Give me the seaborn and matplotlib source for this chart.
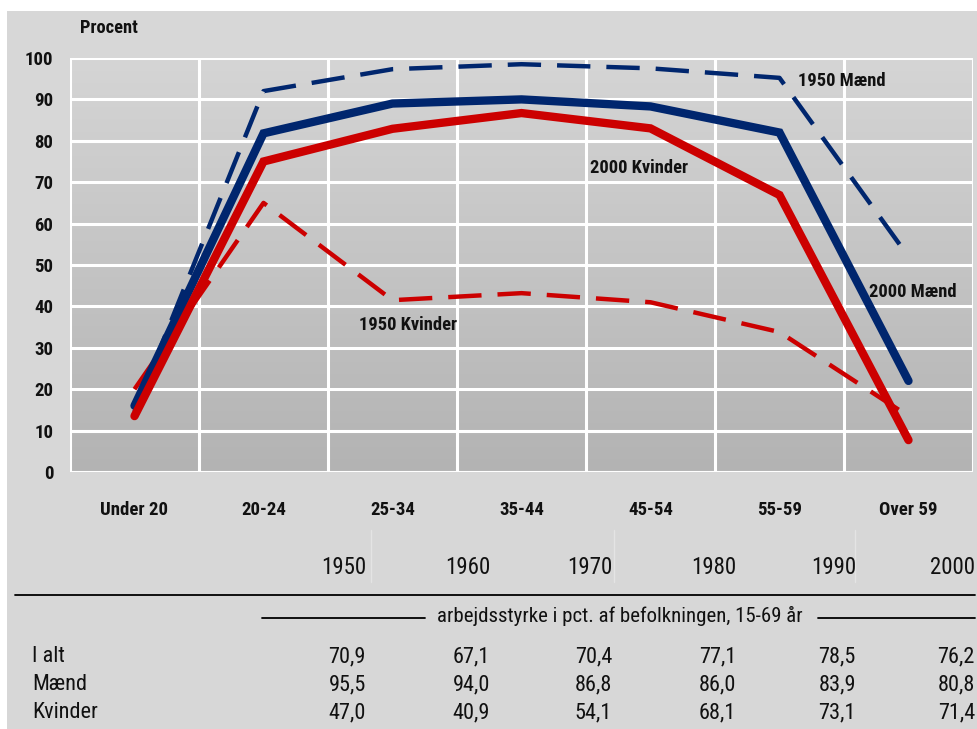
import numpy as np
import pandas as pd
import matplotlib
matplotlib.use("Agg")
import matplotlib.pyplot as plt
from matplotlib.colors import LinearSegmentedColormap
from matplotlib.patches import Rectangle
import seaborn as sns

# ---------------- data ----------------
age_groups = ["Under 20", "20-24", "25-34", "35-44", "45-54", "55-59", "Over 59"]
maend_1950 = [14.5, 92.0, 97.3, 98.5, 97.5, 95.2, 52.0]
kvinder_1950 = [20.0, 65.0, 41.5, 43.2, 41.0, 33.8, 13.5]
maend_2000 = [16.0, 81.8, 89.0, 90.0, 88.3, 82.0, 22.0]
kvinder_2000 = [13.5, 75.0, 82.9, 86.7, 83.0, 66.9, 7.7]

years = ["1950", "1960", "1970", "1980", "1990", "2000"]
row_labels = ["I alt", "Mænd", "Kvinder"]
i_alt = ["70,9", "67,1", "70,4", "77,1", "78,5", "76,2"]
maend_tab = ["95,5", "94,0", "86,8", "86,0", "83,9", "80,8"]
kvinder_tab = ["47,0", "40,9", "54,1", "68,1", "73,1", "71,4"]
table_subtitle = "arbejdsstyrke i pct. af befolkningen, 15-69 år"

# ---------------- style ----------------
sns.set_theme(style="white")
FONTS = ["Liberation Sans Narrow", "Roboto Condensed", "Liberation Sans", "DejaVu Sans"]
plt.rcParams["font.family"] = FONTS
plt.rcParams["text.color"] = "#111111"
plt.rcParams["xtick.color"] = "#111111"
plt.rcParams["ytick.color"] = "#111111"

NAVY = "#00266e"
RED = "#cc0000"
BG = "#d7d7d7"
TXT = "#111111"

W, H = 978, 729
fig = plt.figure(figsize=(W / 100, H / 100), dpi=100, facecolor="white")

def fx(x):
    return x / W

def fy(y):
    return 1 - y / H

# gray panel (white margin top / left)
fig.patches.append(Rectangle((fx(7), 0), 1 - fx(7), fy(11), transform=fig.transFigure,
                             facecolor=BG, edgecolor="none", zorder=-10))

ax = fig.add_axes([fx(70), fy(472), fx(973) - fx(70), fy(58) - fy(472)])
ax.set_facecolor("none")

# gradient background of plot area
cmap = LinearSegmentedColormap.from_list("g", ["#b3b3b3", "#d5d5d5"])
grad = np.linspace(0, 1, 256)[:, None]
ax.imshow(grad, cmap=cmap, extent=[-0.5, 6.5, 0, 100], aspect="auto",
          origin="lower", zorder=0)

x = np.arange(len(age_groups))
series = [
    ("1950 Mænd", maend_1950, NAVY, True),
    ("1950 Kvinder", kvinder_1950, RED, True),
    ("2000 Mænd", maend_2000, NAVY, False),
    ("2000 Kvinder", kvinder_2000, RED, False),
]
for name, vals, col, dashed in series:
    df = pd.DataFrame({"x": x, "y": vals})
    if dashed:
        sns.lineplot(data=df, x="x", y="y", ax=ax, color=col, lw=3.2,
                     zorder=3)
        ln = ax.lines[-1]
        ln.set_dashes((7.5, 3.6))
        ln.set_dash_capstyle("butt")
    else:
        sns.lineplot(data=df, x="x", y="y", ax=ax, color=col, lw=6,
                     zorder=4, solid_capstyle="round", solid_joinstyle="miter")

# grid
for v in range(0, 101, 10):
    ax.axhline(v, color="white", lw=2.2, zorder=1)
for b in np.arange(-0.5, 7, 1):
    ax.axvline(b, color="white", lw=2.2, zorder=1)

ax.set_xlim(-0.5, 6.5)
ax.set_ylim(0, 100)
for s in ax.spines.values():
    s.set_visible(False)
ax.set_xlabel("")
ax.set_ylabel("")
ax.set_yticks(range(0, 101, 10))
ax.set_yticklabels([str(v) for v in range(0, 101, 10)], fontsize=13.5, fontweight="bold", color=TXT)
ax.set_xticks(x)
ax.set_xticklabels(age_groups, fontsize=13.5, fontweight="bold", color=TXT)
ax.tick_params(axis="y", length=0, pad=12)
ax.tick_params(axis="x", length=0, pad=21)
ax.grid(False)

# series labels
lab_kw = dict(fontsize=13.3, fontweight="bold", color=TXT, zorder=6)
ax.text(5.14, 94.4, "1950 Mænd", ha="left", va="center", **lab_kw)
ax.text(3.91, 73.4, "2000 Kvinder", ha="center", va="center", **lab_kw)
ax.text(6.03, 43.5, "2000 Mænd", ha="center", va="center", **lab_kw)
ax.text(2.12, 35.5, "1950 Kvinder", ha="center", va="center", **lab_kw)

fig.text(fx(80), fy(28), "Procent", fontsize=13.3, fontweight="bold",
         ha="left", va="center", color=TXT)

# ---------------- table ----------------
col_right = [366, 490, 612, 736, 856, 975]
# faint column separators in the year row
for xs in [371, 614, 855]:
    fig.lines.append(plt.Line2D([fx(xs), fx(xs)], [fy(582), fy(530)],
                                transform=fig.transFigure, color="#e4e4e4", lw=1))

tkw = dict(fontsize=16.5, color=TXT, va="center")
for xr, yr in zip(col_right, years):
    fig.text(fx(xr), fy(568), yr, ha="right", **tkw)

fig.lines.append(plt.Line2D([fx(15), fx(975)], [fy(595), fy(595)],
                            transform=fig.transFigure, color="black", lw=1.3))
fig.text(fx(620), fy(616), table_subtitle, ha="center", fontsize=15,
         color=TXT, va="center")
fig.lines.append(plt.Line2D([fx(262), fx(425)], [fy(618), fy(618)],
                            transform=fig.transFigure, color="black", lw=1.3))
fig.lines.append(plt.Line2D([fx(818), fx(975)], [fy(618), fy(618)],
                            transform=fig.transFigure, color="black", lw=1.3))

rkw = dict(fontsize=16, color=TXT, va="center")
for row_y, lab, vals in zip([657, 685, 713], row_labels, [i_alt, maend_tab, kvinder_tab]):
    fig.text(fx(32), fy(row_y), lab, ha="left", **rkw)
    for xr, v in zip(col_right, vals):
        fig.text(fx(xr), fy(row_y), v, ha="right", **rkw)

fig.savefig("out.png", dpi=100, facecolor=fig.get_facecolor())
